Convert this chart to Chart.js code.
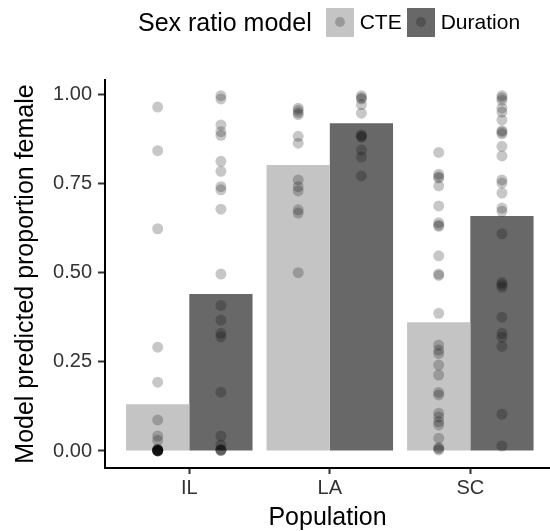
<!DOCTYPE html>
<html>
<head>
<meta charset="utf-8">
<script src="https://cdn.jsdelivr.net/npm/chart.js@4.4.0/dist/chart.umd.min.js"></script>
<style>
  body { margin: 0; background: #fff; }
  #wrap { position: relative; width: 550px; height: 531px; font-family: "Liberation Sans", Arial, sans-serif; }
  #legend { position: absolute; left: 138px; top: 0; height: 44px; display: flex; align-items: center; color: #000; }
  #legend .title { font-size: 25px; margin-right: 14px; }
  #legend .key { width: 28px; height: 29px; position: relative; margin-right: 6px; }
  #legend .key span { position: absolute; left: 9px; top: 9.5px; width: 10px; height: 10px; border-radius: 50%; background: rgba(0, 0, 0, 0.22); }
  #legend .label { font-size: 21px; margin-right: 5px; }
</style>
</head>
<body>
<div id="wrap">
  <canvas id="chart" width="550" height="531"></canvas>
  <div id="legend"><div class="title">Sex ratio model</div></div>
</div>
<script>
const categories = ['IL', 'LA', 'SC'];
const seriesNames = ['CTE', 'Duration'];
const cteBars = [0.131, 0.802, 0.361];
const durationBars = [0.440, 0.919, 0.659];
const yTicks = [0, 0.25, 0.5, 0.75, 1];

// individual model predictions (one dot each)
const ilCte = [0.964, 0.842, 0.623, 0.291, 0.193, 0.087, 0.042, 0.030, 0.005, 0.004, 0.003, 0.002, 0.002, 0.001, 0.001, 0.001, 0.000, 0.000, 0.000];
const ilDuration = [0.996, 0.987, 0.914, 0.895, 0.885, 0.812, 0.784, 0.741, 0.732, 0.678, 0.496, 0.408, 0.367, 0.330, 0.320, 0.165, 0.042, 0.017, 0.004, 0.003, 0.002, 0.001];
const laCte = [0.961, 0.955, 0.948, 0.943, 0.882, 0.863, 0.760, 0.741, 0.729, 0.676, 0.667, 0.500];
const laDuration = [0.996, 0.990, 0.987, 0.971, 0.947, 0.886, 0.882, 0.880, 0.844, 0.824, 0.771];
const scCte = [0.837, 0.776, 0.769, 0.765, 0.743, 0.687, 0.640, 0.633, 0.630, 0.547, 0.496, 0.492, 0.386, 0.297, 0.283, 0.273, 0.241, 0.213, 0.164, 0.157, 0.106, 0.095, 0.082, 0.073, 0.036, 0.010, 0.006, 0.003];
const scDuration = [0.996, 0.990, 0.983, 0.961, 0.950, 0.928, 0.898, 0.894, 0.889, 0.854, 0.827, 0.760, 0.751, 0.723, 0.681, 0.672, 0.609, 0.472, 0.466, 0.459, 0.375, 0.330, 0.319, 0.293, 0.103, 0.014];

const cteDots = [ilCte, laCte, scCte];
const durationDots = [ilDuration, laDuration, scDuration];

const barColors = ['#c4c4c4', '#686868'];
const dotColor = 'rgba(0, 0, 0, 0.22)';
const dodge = 0.225;

const toBars = (vals) => vals.map((v, i) => ({ x: i + 1, y: v }));
const toDots = (groups, shift) => groups.flatMap((vals, i) => vals.map(v => ({ x: i + 1 + shift, y: v })));

// legend keys
const legend = document.getElementById('legend');
seriesNames.forEach((name, i) => {
  const key = document.createElement('div');
  key.className = 'key';
  key.style.background = barColors[i];
  key.appendChild(document.createElement('span'));
  const label = document.createElement('div');
  label.className = 'label';
  label.textContent = name;
  legend.appendChild(key);
  legend.appendChild(label);
});

const font = '"Liberation Sans", Arial, sans-serif';

const ctx = document.getElementById('chart').getContext('2d');
new Chart(ctx, {
  type: 'bar',
  data: {
    datasets: [
      { type: 'bar', label: seriesNames[0], data: toBars(cteBars), backgroundColor: barColors[0], order: 2, barPercentage: 1, categoryPercentage: 0.9 },
      { type: 'bar', label: seriesNames[1], data: toBars(durationBars), backgroundColor: barColors[1], order: 2, barPercentage: 1, categoryPercentage: 0.9 },
      { type: 'scatter', data: toDots(cteDots, -dodge), pointRadius: 5.5, pointBackgroundColor: dotColor, pointBorderWidth: 0, order: 1 },
      { type: 'scatter', data: toDots(durationDots, dodge), pointRadius: 5.5, pointBackgroundColor: dotColor, pointBorderWidth: 0, order: 1 },
    ],
  },
  options: {
    responsive: false,
    animation: false,
    events: [],
    layout: { autoPadding: false, padding: { top: 80, left: 0, right: 0, bottom: 0 } },
    plugins: { legend: { display: false }, tooltip: { enabled: false } },
    scales: {
      x: {
        type: 'linear',
        min: 0.4,
        max: 3.567,
        offset: false,
        afterBuildTicks: (scale) => { scale.ticks = categories.map((c, i) => ({ value: i + 1 })); },
        afterFit: (scale) => { scale.height = 63; },
        grid: { drawOnChartArea: false, offset: false, tickLength: 6, tickWidth: 2, tickColor: '#333' },
        border: { color: '#000', width: 2 },
        ticks: {
          padding: 2,
          color: '#333',
          font: { family: font, size: 20 },
          autoSkip: false,
          maxRotation: 0,
          callback: (v) => categories[v - 1],
        },
        title: { display: true, text: 'Population', color: '#000', font: { family: font, size: 25, lineHeight: 1 }, padding: { top: 0, bottom: 0 } },
      },
      y: {
        min: -0.0477,
        max: 1.04,
        afterBuildTicks: (scale) => { scale.ticks = yTicks.map(v => ({ value: v })); },
        afterFit: (scale) => { scale.width = 105; },
        grid: { drawOnChartArea: false, tickLength: 7, tickWidth: 2, tickColor: '#333' },
        border: { color: '#000', width: 2 },
        ticks: {
          padding: 6,
          color: '#333',
          font: { family: font, size: 20 },
          callback: (v) => v.toFixed(2),
        },
        title: { display: true, text: 'Model predicted proportion female', color: '#000', font: { family: font, size: 25, lineHeight: 1 }, padding: { top: 14, bottom: 0 } },
      },
    },
  },
});
</script>
</body>
</html>
